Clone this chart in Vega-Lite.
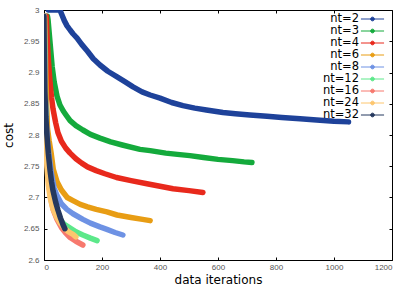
{
  "$schema": "https://vega.github.io/schema/vega-lite/v6.json",
  "width": 348,
  "height": 250,
  "autosize": {"type": "none"},
  "padding": {"left": 44, "top": 10, "right": 15, "bottom": 25},
  "background": "white",
  "config": {
    "view": {"stroke": "black", "strokeWidth": 1},
    "axis": {"domain": false, "grid": false, "tickColor": "black", "tickSize": -3, "labelColor": "#555555", "labelFontSize": 8, "labelFont": "Liberation Sans", "titleFont": "DejaVu Sans", "titleFontSize": 12, "titleFontWeight": "normal", "titleColor": "black"}
  },
  "data": {"values": [
    {"s":"nt=2","x":15,"y":3.0},{"s":"nt=2","x":35,"y":3.0},{"s":"nt=2","x":55,"y":3.0},{"s":"nt=2","x":62,"y":2.992},{"s":"nt=2","x":70,"y":2.983},{"s":"nt=2","x":79,"y":2.975},{"s":"nt=2","x":90,"y":2.968},{"s":"nt=2","x":100,"y":2.962},{"s":"nt=2","x":114,"y":2.955},{"s":"nt=2","x":130,"y":2.945},{"s":"nt=2","x":150,"y":2.934},{"s":"nt=2","x":170,"y":2.922},{"s":"nt=2","x":193,"y":2.912},{"s":"nt=2","x":220,"y":2.902},{"s":"nt=2","x":252,"y":2.893},{"s":"nt=2","x":280,"y":2.885},{"s":"nt=2","x":307,"y":2.877},{"s":"nt=2","x":338,"y":2.869},{"s":"nt=2","x":366,"y":2.864},{"s":"nt=2","x":400,"y":2.859},{"s":"nt=2","x":440,"y":2.852},{"s":"nt=2","x":479,"y":2.847},{"s":"nt=2","x":520,"y":2.843},{"s":"nt=2","x":560,"y":2.840},{"s":"nt=2","x":617,"y":2.836},{"s":"nt=2","x":660,"y":2.834},{"s":"nt=2","x":710,"y":2.832},{"s":"nt=2","x":769,"y":2.830},{"s":"nt=2","x":820,"y":2.828},{"s":"nt=2","x":883,"y":2.826},{"s":"nt=2","x":940,"y":2.824},{"s":"nt=2","x":1000,"y":2.822},{"s":"nt=2","x":1050,"y":2.821},
    {"s":"nt=3","x":12,"y":2.99},{"s":"nt=3","x":14,"y":2.984},{"s":"nt=3","x":21,"y":2.947},{"s":"nt=3","x":28,"y":2.91},{"s":"nt=3","x":35,"y":2.885},{"s":"nt=3","x":45,"y":2.862},{"s":"nt=3","x":55,"y":2.848},{"s":"nt=3","x":67,"y":2.838},{"s":"nt=3","x":79,"y":2.83},{"s":"nt=3","x":90,"y":2.823},{"s":"nt=3","x":110,"y":2.815},{"s":"nt=3","x":134,"y":2.808},{"s":"nt=3","x":160,"y":2.801},{"s":"nt=3","x":193,"y":2.795},{"s":"nt=3","x":230,"y":2.789},{"s":"nt=3","x":270,"y":2.784},{"s":"nt=3","x":331,"y":2.777},{"s":"nt=3","x":366,"y":2.775},{"s":"nt=3","x":420,"y":2.771},{"s":"nt=3","x":460,"y":2.769},{"s":"nt=3","x":503,"y":2.767},{"s":"nt=3","x":550,"y":2.764},{"s":"nt=3","x":600,"y":2.761},{"s":"nt=3","x":650,"y":2.759},{"s":"nt=3","x":690,"y":2.757},{"s":"nt=3","x":717,"y":2.756},
    {"s":"nt=4","x":8,"y":2.99},{"s":"nt=4","x":10,"y":2.963},{"s":"nt=4","x":15,"y":2.92},{"s":"nt=4","x":21,"y":2.883},{"s":"nt=4","x":26,"y":2.86},{"s":"nt=4","x":31,"y":2.842},{"s":"nt=4","x":40,"y":2.82},{"s":"nt=4","x":48,"y":2.804},{"s":"nt=4","x":60,"y":2.79},{"s":"nt=4","x":75,"y":2.779},{"s":"nt=4","x":90,"y":2.771},{"s":"nt=4","x":110,"y":2.762},{"s":"nt=4","x":130,"y":2.755},{"s":"nt=4","x":150,"y":2.749},{"s":"nt=4","x":180,"y":2.743},{"s":"nt=4","x":210,"y":2.738},{"s":"nt=4","x":250,"y":2.732},{"s":"nt=4","x":300,"y":2.727},{"s":"nt=4","x":355,"y":2.722},{"s":"nt=4","x":400,"y":2.718},{"s":"nt=4","x":445,"y":2.714},{"s":"nt=4","x":500,"y":2.711},{"s":"nt=4","x":548,"y":2.708},
    {"s":"nt=6","x":2,"y":2.99},{"s":"nt=6","x":4,"y":2.95},{"s":"nt=6","x":6,"y":2.9},{"s":"nt=6","x":9,"y":2.85},{"s":"nt=6","x":12,"y":2.81},{"s":"nt=6","x":18,"y":2.79},{"s":"nt=6","x":25,"y":2.77},{"s":"nt=6","x":32,"y":2.745},{"s":"nt=6","x":45,"y":2.725},{"s":"nt=6","x":60,"y":2.712},{"s":"nt=6","x":80,"y":2.70},{"s":"nt=6","x":100,"y":2.695},{"s":"nt=6","x":125,"y":2.689},{"s":"nt=6","x":150,"y":2.685},{"s":"nt=6","x":180,"y":2.681},{"s":"nt=6","x":217,"y":2.677},{"s":"nt=6","x":252,"y":2.672},{"s":"nt=6","x":300,"y":2.668},{"s":"nt=6","x":340,"y":2.665},{"s":"nt=6","x":366,"y":2.663},
    {"s":"nt=8","x":1,"y":2.99},{"s":"nt=8","x":3,"y":2.92},{"s":"nt=8","x":5,"y":2.86},{"s":"nt=8","x":8,"y":2.82},{"s":"nt=8","x":12,"y":2.79},{"s":"nt=8","x":18,"y":2.765},{"s":"nt=8","x":25,"y":2.74},{"s":"nt=8","x":35,"y":2.715},{"s":"nt=8","x":45,"y":2.703},{"s":"nt=8","x":60,"y":2.69},{"s":"nt=8","x":79,"y":2.681},{"s":"nt=8","x":100,"y":2.674},{"s":"nt=8","x":134,"y":2.665},{"s":"nt=8","x":160,"y":2.659},{"s":"nt=8","x":193,"y":2.653},{"s":"nt=8","x":217,"y":2.649},{"s":"nt=8","x":245,"y":2.644},{"s":"nt=8","x":272,"y":2.64},
    {"s":"nt=12","x":1,"y":2.99},{"s":"nt=12","x":2,"y":2.93},{"s":"nt=12","x":4,"y":2.87},{"s":"nt=12","x":6,"y":2.82},{"s":"nt=12","x":9,"y":2.78},{"s":"nt=12","x":13,"y":2.75},{"s":"nt=12","x":18,"y":2.72},{"s":"nt=12","x":25,"y":2.698},{"s":"nt=12","x":35,"y":2.68},{"s":"nt=12","x":50,"y":2.667},{"s":"nt=12","x":70,"y":2.657},{"s":"nt=12","x":90,"y":2.651},{"s":"nt=12","x":110,"y":2.645},{"s":"nt=12","x":134,"y":2.64},{"s":"nt=12","x":160,"y":2.635},{"s":"nt=12","x":183,"y":2.631},
    {"s":"nt=16","x":0,"y":2.99},{"s":"nt=16","x":1,"y":2.93},{"s":"nt=16","x":3,"y":2.87},{"s":"nt=16","x":5,"y":2.82},{"s":"nt=16","x":8,"y":2.78},{"s":"nt=16","x":12,"y":2.75},{"s":"nt=16","x":17,"y":2.72},{"s":"nt=16","x":24,"y":2.697},{"s":"nt=16","x":32,"y":2.68},{"s":"nt=16","x":45,"y":2.665},{"s":"nt=16","x":60,"y":2.652},{"s":"nt=16","x":75,"y":2.643},{"s":"nt=16","x":90,"y":2.636},{"s":"nt=16","x":110,"y":2.63},{"s":"nt=16","x":134,"y":2.624},
    {"s":"nt=24","x":0,"y":2.99},{"s":"nt=24","x":1,"y":2.93},{"s":"nt=24","x":2,"y":2.87},{"s":"nt=24","x":4,"y":2.82},{"s":"nt=24","x":7,"y":2.78},{"s":"nt=24","x":10,"y":2.75},{"s":"nt=24","x":15,"y":2.72},{"s":"nt=24","x":22,"y":2.698},{"s":"nt=24","x":30,"y":2.683},{"s":"nt=24","x":42,"y":2.67},{"s":"nt=24","x":55,"y":2.66},{"s":"nt=24","x":70,"y":2.651},{"s":"nt=24","x":85,"y":2.645},{"s":"nt=24","x":100,"y":2.641},{"s":"nt=24","x":110,"y":2.637},
    {"s":"nt=32","x":0,"y":2.99},{"s":"nt=32","x":1,"y":2.93},{"s":"nt=32","x":3,"y":2.87},{"s":"nt=32","x":6,"y":2.83},{"s":"nt=32","x":10,"y":2.8},{"s":"nt=32","x":15,"y":2.77},{"s":"nt=32","x":21,"y":2.743},{"s":"nt=32","x":26,"y":2.725},{"s":"nt=32","x":31,"y":2.711},{"s":"nt=32","x":40,"y":2.693},{"s":"nt=32","x":48,"y":2.68},{"s":"nt=32","x":57,"y":2.667},{"s":"nt=32","x":66,"y":2.656},{"s":"nt=32","x":72,"y":2.65}
  ]},
  "layer": [
    {
      "mark": {"type": "line", "strokeWidth": 5.5, "strokeCap": "round", "strokeJoin": "round", "clip": true},
      "encoding": {
        "x": {"field": "x", "type": "quantitative", "scale": {"domain": [0, 1200], "nice": false}, "axis": {"values": [0,200,400,600,800,1000,1200], "format": "d", "title": "data iterations", "labelPadding": 6, "titleY": 23, "titleBaseline": "alphabetic"}},
        "y": {"field": "y", "type": "quantitative", "scale": {"domain": [2.6, 3], "zero": false, "nice": false}, "axis": {"values": [2.6,2.65,2.7,2.75,2.8,2.85,2.9,2.95,3], "format": "~g", "title": "cost", "labelPadding": 8, "titlePadding": 8}},
        "color": {"field": "s", "type": "nominal",
          "scale": {"domain": ["nt=2","nt=3","nt=4","nt=6","nt=8","nt=12","nt=16","nt=24","nt=32"], "range": ["#1e429a","#14aa3c","#e8291c","#e89d14","#6e92e4","#5ce88a","#f7796e","#fdc66e","#25385e"]},
          "legend": {"title": null, "orient": "none", "legendX": 322.5, "legendY": 3, "padding": 0,
            "symbolType": "M-2.1,0H2.1M-0.34,0A0.34,0.34 0 1 1 0.34,0A0.34,0.34 0 1 1 -0.34,0Z",
            "symbolSize": 121, "symbolStrokeWidth": 1,
            "labelAlign": "right", "labelOffset": -19.5, "labelFont": "DejaVu Sans", "labelFontSize": 11.5, "labelColor": "black", "rowPadding": 0,
            "encode": {"symbols": {"update": {"fill": {"scale": "color", "field": "value"}, "stroke": {"scale": "color", "field": "value"}, "opacity": {"value": 1}}}}}
        },
        "order": {"field": "x", "type": "quantitative"}
      }
    },
    {
      "mark": {"type": "line", "opacity": 0},
      "encoding": {
        "x": {"field": "x", "type": "quantitative", "axis": {"orient": "top", "values": [0,200,400,600,800,1000,1200], "labels": false, "title": null}},
        "y": {"field": "y", "type": "quantitative", "axis": {"orient": "right", "values": [2.6,2.65,2.7,2.75,2.8,2.85,2.9,2.95,3], "labels": false, "title": null}},
        "detail": {"field": "s", "type": "nominal"}
      }
    }
  ],
  "resolve": {"axis": {"x": "independent", "y": "independent"}}
}
